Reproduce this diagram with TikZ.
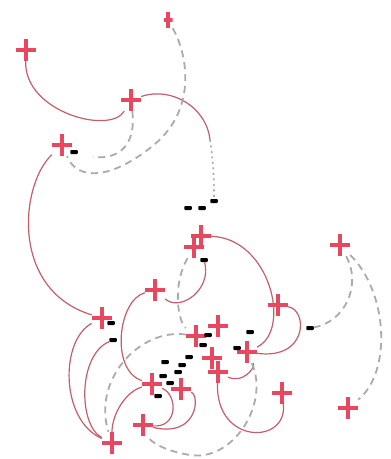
\documentclass[tikz,border=0pt]{standalone}
\usepackage{xcolor}
\usepackage{tikz}
\usetikzlibrary{positioning}
\definecolor{sRed}{HTML}{E8485F}
\definecolor{sRose}{HTML}{C45E68}
\definecolor{sGrey}{HTML}{ABABAB}
\tikzset{
  plusmark/.style={minimum width=20pt, minimum height=22pt, inner sep=0pt,
    path picture={\draw[sRed, line width=4pt]
      (path picture bounding box.north) -- (path picture bounding box.south)
      (path picture bounding box.west) -- (path picture bounding box.east);}},
  smallplus/.style={plusmark, minimum width=9pt, minimum height=16pt},
  tag/.style={fill=black, rounded corners=0.8pt, minimum width=7.5pt, minimum height=4pt, inner sep=0pt},
  solidlink/.style={draw=sRose, line width=1.2pt},
  dashlink/.style={draw=sGrey, line width=1.8pt, dash pattern=on 7pt off 5pt},
  dotlink/.style={draw=sGrey, line width=1.6pt, dash pattern=on 2pt off 3.5pt}
}
\begin{document}
\begin{tikzpicture}[x=1pt, y=-1pt]
  \useasboundingbox (0,0) rectangle (391,459);

  \node[plusmark] (nA) at (26,50) {};
  \node[smallplus] (nB) at (168,20) {};
  \node[plusmark] (nC) at (131,100) {};
  \node[plusmark] (nD) at (62,145) {};
  \node[plusmark] (nE) at (201,236) {};
  \node[plusmark] (nEb) at (194,247) {};
  \node[plusmark] (nF) at (340,245) {};
  \node[plusmark] (nG) at (155,290) {};
  \node[plusmark] (nH) at (278,305) {};
  \node[plusmark] (nI) at (102,318) {};
  \node[plusmark] (nJ) at (218,326) {};
  \node[plusmark] (nK) at (196,336) {};
  \node[plusmark] (nL) at (247,352) {};
  \node[plusmark] (nM) at (212,358) {};
  \node[plusmark] (nMb) at (218,372) {};
  \node[plusmark] (nN) at (152,384) {};
  \node[plusmark] (nO) at (181,389) {};
  \node[plusmark] (nP) at (282,393) {};
  \node[plusmark] (nQ) at (143,425) {};
  \node[plusmark] (nR) at (112,443) {};
  \node[plusmark] (nS) at (348,408) {};

  \node[tag] (tD) at (74,152) {};
  \node[tag] (tC1) at (188,208) {};
  \node[tag] (tC2) at (202,208) {};
  \node[tag] (tC3) at (214,201) {};
  \node[tag] (tE) at (204,260) {};
  \node[tag] (tI1) at (111,323) {};
  \node[tag] (tI2) at (113,340) {};
  \node[tag] (tK1) at (208,335) {};
  \node[tag] (tK2) at (203,345) {};
  \node[tag] (tX1) at (165,362) {};
  \node[tag] (tX2) at (182,365) {};
  \node[tag] (tX3) at (178,372) {};
  \node[tag] (tX4) at (189,357) {};
  \node[tag] (tX5) at (163,376) {};
  \node[tag] (tX6) at (170,383) {};
  \node[tag] (tX7) at (158,396) {};
  \node[tag] (tL1) at (250,332) {};
  \node[tag] (tL2) at (237,348) {};
  \node[tag] (tF) at (310,328) {};

  \coordinate (cC) at (210,140);
  \coordinate (cD) at (93,157);

  \draw[solidlink] (nA) .. controls (24,112) and (110,135) .. (nC);
  \draw[solidlink] (nC) .. controls (172,86) and (207,108) .. (cC);
  \draw[dotlink] (cC) .. controls (214,165) and (214,185) .. (tC3);
  \draw[solidlink] (nD) .. controls (20,185) and (10,290) .. (nI);
  \draw[solidlink] (nE) .. controls (270,238) and (292,330) .. (nL);
  \draw[solidlink] (nH) .. controls (308,310) and (308,360) .. (nL);
  \draw[solidlink] (tE) .. controls (212,290) and (180,312) .. (nG);
  \draw[solidlink] (nG) .. controls (118,300) and (110,370) .. (nN);
  \draw[solidlink] (nI) .. controls (60,340) and (60,420) .. (nR);
  \draw[solidlink] (tI2) .. controls (78,355) and (78,425) .. (nR);
  \draw[solidlink] (nN) .. controls (125,392) and (112,415) .. (nR);
  \draw[solidlink] (nN) .. controls (178,395) and (178,428) .. (nQ);
  \draw[solidlink] (nO) .. controls (200,395) and (198,438) .. (nQ);
  \draw[solidlink] (nMb) .. controls (215,445) and (288,445) .. (nP);
  \draw[solidlink] (nMb) .. controls (242,384) and (256,368) .. (nL);

  \draw[dashlink] (nB) .. controls (188,55) and (198,112) .. (150,148)
    .. controls (112,178) and (78,182) .. (nD);
  \draw[dashlink] (nC) .. controls (136,142) and (122,160) .. (cD);
  \draw[dashlink] (nEb) .. controls (172,285) and (178,322) .. (nK);
  \draw[dashlink] (nK) .. controls (140,328) and (92,380) .. (nR);
  \draw[dashlink] (nL) .. controls (270,405) and (232,462) .. (190,455)
    .. controls (165,451) and (150,442) .. (nQ);
  \draw[dashlink] (nF) .. controls (388,292) and (392,372) .. (nS);
  \draw[dashlink] (nF) .. controls (362,285) and (345,322) .. (tF);
\end{tikzpicture}
\end{document}
